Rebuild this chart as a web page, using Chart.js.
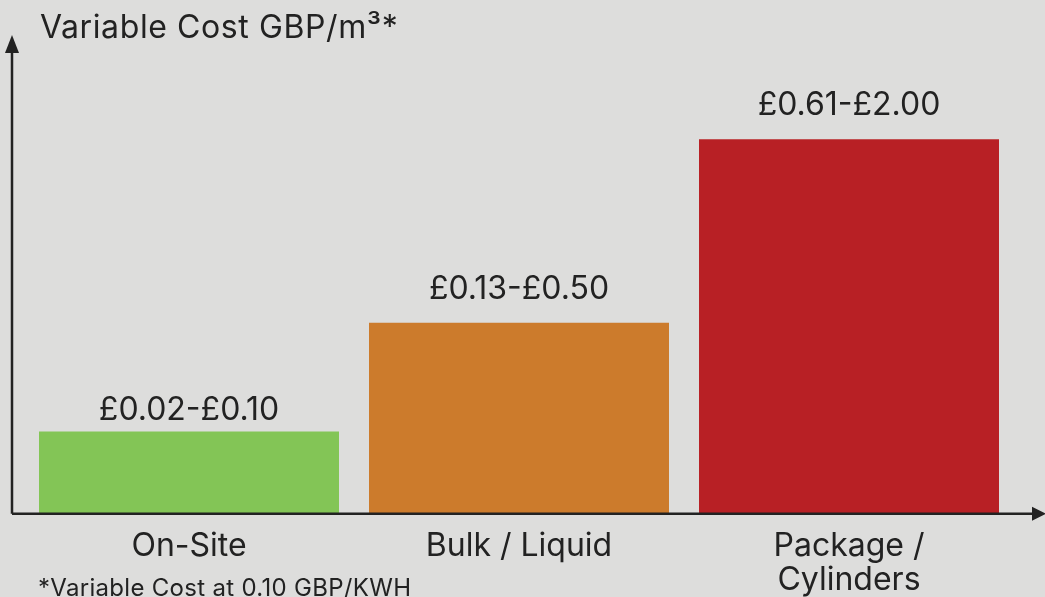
<!DOCTYPE html>
<html>
<head>
<meta charset="utf-8">
<script src="https://cdn.jsdelivr.net/npm/chart.js@4/dist/chart.umd.min.js"></script>
<style>
  html, body { margin: 0; padding: 0; background: #dddddc; }
  #wrap { width: 1045px; height: 597px; }
</style>
</head>
<body>
<div id="wrap"><canvas id="chartCusto"></canvas></div>
<script>
// dados
var categorias = [['On-Site'], ['Bulk / Liquid'], ['Package /', 'Cylinders']];
var alturas = [22, 51, 100];            // altura relativa das barras
var faixas = ['£0.02-£0.10', '£0.13-£0.50', '£0.61-£2.00'];
var cores = ['#83c556', '#cc7b2c', '#b82025'];

var titulo = 'Variable Cost GBP/m³*';
var nota = '*Variable Cost at 0.10 GBP/KWH';

var fonte = 'Inter';
var corTexto = '#222222';

// desenha fundo, eixos com setas, titulo, nota e rotulos das barras
var extras = {
    id: 'extras',
    beforeDraw: function(chart) {
        var ctx = chart.ctx;
        ctx.save();
        ctx.fillStyle = '#dddddc';
        ctx.fillRect(0, 0, chart.width, chart.height);
        ctx.restore();
    },
    afterDatasetsDraw: function(chart) {
        var ctx = chart.ctx;
        var area = chart.chartArea;
        var x0 = area.left - 12;
        var y0 = area.bottom;
        ctx.save();
        ctx.strokeStyle = corTexto;
        ctx.fillStyle = corTexto;
        ctx.lineWidth = 2.5;
        ctx.beginPath();
        ctx.moveTo(x0, y0);
        ctx.lineTo(x0, area.top + 8);
        ctx.moveTo(x0, y0);
        ctx.lineTo(chart.width - 10, y0);
        ctx.stroke();
        // seta vertical
        ctx.beginPath();
        ctx.moveTo(x0, area.top - 7);
        ctx.lineTo(x0 - 7, area.top + 11);
        ctx.lineTo(x0 + 7, area.top + 11);
        ctx.closePath();
        ctx.fill();
        // seta horizontal
        ctx.beginPath();
        ctx.moveTo(chart.width + 1, y0);
        ctx.lineTo(chart.width - 13, y0 - 7);
        ctx.lineTo(chart.width - 13, y0 + 7);
        ctx.closePath();
        ctx.fill();

        // titulo
        ctx.font = '32px ' + fonte;
        ctx.letterSpacing = '0.6px';
        ctx.textAlign = 'left';
        ctx.textBaseline = 'alphabetic';
        ctx.fillText(titulo, 40, 38);

        // nota de rodape
        ctx.font = '24px ' + fonte;
        ctx.letterSpacing = '0.3px';
        ctx.fillText(nota, 38, 596);

        // rotulos acima das barras
        ctx.font = '32px ' + fonte;
        ctx.letterSpacing = '0px';
        ctx.textAlign = 'center';
        var meta = chart.getDatasetMeta(0);
        meta.data.forEach(function(bar, i) {
            var gap = i === 0 ? 11 : 24;
            ctx.fillText(faixas[i], bar.x, bar.y - gap);
        });
        ctx.restore();
    }
};

var custo = document.getElementById('chartCusto').getContext('2d');
var chart = new Chart(custo, {
    type: 'bar',
    data: {
        labels: categorias,
        datasets: [{
            label: 'Variable Cost',
            data: alturas,
            backgroundColor: cores,
            borderWidth: 0,
            barPercentage: 1,
            categoryPercentage: 300 / 330
        }]
    },
    options: {
        responsive: true,
        maintainAspectRatio: false,
        animation: false,
        layout: { padding: { top: 42, left: 24, right: 31, bottom: -8 } },
        plugins: {
            legend: { display: false },
            tooltip: { enabled: false },
            title: { display: false }
        },
        scales: {
            x: {
                grid: { display: false },
                border: { display: false },
                ticks: {
                    color: corTexto,
                    padding: 8,
                    font: { family: fonte, size: 32, lineHeight: 1.05 }
                }
            },
            y: {
                display: false,
                min: 0,
                max: 126
            }
        }
    },
    plugins: [extras]
});
</script>
</body>
</html>
